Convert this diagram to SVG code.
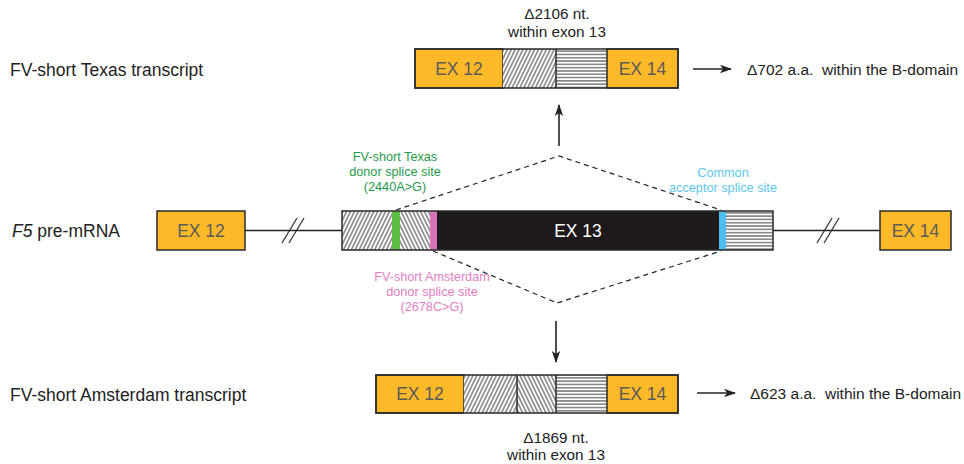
<svg xmlns="http://www.w3.org/2000/svg" width="964" height="464" viewBox="0 0 964 464">
<defs>
<style>
.t{font-family:"Liberation Sans",Arial,sans-serif;fill:#222}
.lab{font-size:17.5px}
.ex{font-family:"Liberation Sans",Arial,sans-serif;font-size:17.5px;fill:#5a5a5a;text-anchor:middle}
.ann{font-family:"Liberation Sans",Arial,sans-serif;font-size:15.3px;fill:#222;text-anchor:middle}
.res{font-family:"Liberation Sans",Arial,sans-serif;font-size:15.5px;fill:#222;white-space:pre}
.site{font-family:"Liberation Sans",Arial,sans-serif;font-size:12.7px;text-anchor:middle}
.exon{fill:#FDB927;stroke:#2a2a2a;stroke-width:1.5}
.frame{fill:none;stroke:#2a2a2a;stroke-width:1.5}
.conn{stroke:#222;stroke-width:1.6;fill:none}
.dash{stroke:#222;stroke-width:1.2;fill:none;stroke-dasharray:5 4}
.thin{stroke:#333;stroke-width:1.3;fill:none}
</style>
<pattern id="fwd" width="3.5" height="10" patternUnits="userSpaceOnUse" patternTransform="rotate(26)">
<rect width="3.5" height="10" fill="#fff"/>
<line x1="1.75" y1="0" x2="1.75" y2="10" stroke="#767676" stroke-width="1.4"/>
</pattern>
<pattern id="bwd" width="3.5" height="10" patternUnits="userSpaceOnUse" patternTransform="rotate(-26)">
<rect width="3.5" height="10" fill="#fff"/>
<line x1="1.75" y1="0" x2="1.75" y2="10" stroke="#767676" stroke-width="1.4"/>
</pattern>
<pattern id="hor" width="10" height="3.3" patternUnits="userSpaceOnUse">
<rect width="10" height="3.3" fill="#fff"/>
<line x1="0" y1="1.65" x2="10" y2="1.65" stroke="#7c7c7c" stroke-width="1.5"/>
</pattern>
<marker id="arr" viewBox="0 0 12 10" refX="11" refY="5" markerWidth="12" markerHeight="10" markerUnits="userSpaceOnUse" orient="auto">
<path d="M0,0.8 L12,5 L0,9.2 L3,5 Z" fill="#222"/>
</marker>
</defs>

<!-- left labels -->
<g id="labels">
<text class="t lab" x="10" y="76">FV-short Texas transcript</text>
<text class="t lab" x="12" y="237" font-size="17px"><tspan font-style="italic">F5</tspan> pre-mRNA</text>
<text class="t lab" x="10" y="401">FV-short Amsterdam transcript</text>
</g>

<!-- connectors -->
<g id="connectors">
<line class="conn" x1="245" y1="230.5" x2="342" y2="230.5"/>
<line class="conn" x1="773" y1="230.5" x2="880" y2="230.5"/>
<line class="thin" x1="282" y1="243" x2="297" y2="218"/>
<line class="thin" x1="289" y1="243" x2="304" y2="218"/>
<line class="thin" x1="817" y1="243" x2="832" y2="218"/>
<line class="thin" x1="824" y1="243" x2="839" y2="218"/>
<polyline class="dash" points="396,210 559,156 721,210"/>
<polyline class="dash" points="433,251 557,303 721,251"/>
<line class="conn" x1="559" y1="146" x2="559" y2="105" marker-end="url(#arr)"/>
<line class="conn" x1="556" y1="321" x2="556" y2="362" marker-end="url(#arr)"/>
<line class="conn" x1="693" y1="69" x2="731" y2="69" marker-end="url(#arr)"/>
<line class="conn" x1="697" y1="393" x2="735" y2="393" marker-end="url(#arr)"/>
</g>

<!-- top transcript -->
<g id="texas-transcript">
<rect class="exon" x="415" y="49" width="88" height="39"/>
<rect x="503" y="49" width="53" height="39" fill="url(#fwd)"/>
<rect x="556" y="49" width="51" height="39" fill="url(#hor)"/>
<rect class="exon" x="607" y="49" width="71" height="39"/>
<rect class="frame" x="415" y="49" width="263" height="39"/>
<line class="frame" x1="556" y1="49" x2="556" y2="88"/>
<text class="ex" x="459" y="75">EX 12</text>
<text class="ex" x="642.5" y="75">EX 14</text>
</g>
<g id="texas-annot">
<text class="ann" x="557" y="19">Δ2106 nt.</text>
<text class="ann" x="557" y="37">within exon 13</text>
<text class="res" x="747" y="75">Δ702 a.a.  within the B-domain</text>
</g>

<!-- pre-mRNA -->
<g id="pre-ex12">
<rect class="exon" x="157" y="211" width="88" height="39"/>
<text class="ex" x="201" y="237">EX 12</text>
</g>
<g id="pre-ex13">
<rect x="342" y="211" width="50" height="39" fill="url(#fwd)"/>
<rect x="392" y="211" width="8" height="39" fill="#5DBE45"/>
<rect x="400" y="211" width="30" height="39" fill="url(#bwd)"/>
<rect x="430" y="211" width="7" height="39" fill="#D874B9"/>
<rect x="437" y="211" width="282" height="39" fill="#1E1A1B"/>
<rect x="719" y="211" width="7" height="39" fill="#4CBFEF"/>
<rect x="726" y="211" width="47" height="39" fill="url(#hor)"/>
<rect class="frame" x="342" y="211" width="431" height="39"/>
<text x="578" y="237" font-family="Liberation Sans, Arial, sans-serif" font-size="17.5px" fill="#fff" text-anchor="middle">EX 13</text>
</g>
<g id="pre-ex14">
<rect class="exon" x="880" y="211" width="71" height="39"/>
<text class="ex" x="915.5" y="237">EX 14</text>
</g>
<g id="site-labels">
<text class="site" fill="#1F9A4C" x="395" y="161">FV-short Texas</text>
<text class="site" fill="#1F9A4C" x="395" y="176">donor splice site</text>
<text class="site" fill="#1F9A4C" x="395" y="191">(2440A&gt;G)</text>
<text class="site" fill="#E27DC2" x="432" y="281">FV-short Amsterdam</text>
<text class="site" fill="#E27DC2" x="432" y="296">donor splice site</text>
<text class="site" fill="#E27DC2" x="432" y="311">(2678C&gt;G)</text>
<text class="site" fill="#5EC7F1" x="723" y="177">Common</text>
<text class="site" fill="#5EC7F1" x="723" y="192">acceptor splice site</text>
</g>

<!-- bottom transcript -->
<g id="amsterdam-transcript">
<rect class="exon" x="376" y="375" width="88" height="38"/>
<rect x="464" y="375" width="53" height="38" fill="url(#fwd)"/>
<rect x="517" y="375" width="39" height="38" fill="url(#bwd)"/>
<rect x="556" y="375" width="51" height="38" fill="url(#hor)"/>
<rect class="exon" x="607" y="375" width="71" height="38"/>
<rect class="frame" x="376" y="375" width="302" height="38"/>
<line class="frame" x1="517" y1="375" x2="517" y2="413"/>
<line class="frame" x1="556" y1="375" x2="556" y2="413"/>
<text class="ex" x="420" y="400">EX 12</text>
<text class="ex" x="642.5" y="400">EX 14</text>
</g>
<g id="amsterdam-annot">
<text class="ann" x="556" y="443">Δ1869 nt.</text>
<text class="ann" x="556" y="460">within exon 13</text>
<text class="res" x="750" y="399">Δ623 a.a.  within the B-domain</text>
</g>
</svg>
